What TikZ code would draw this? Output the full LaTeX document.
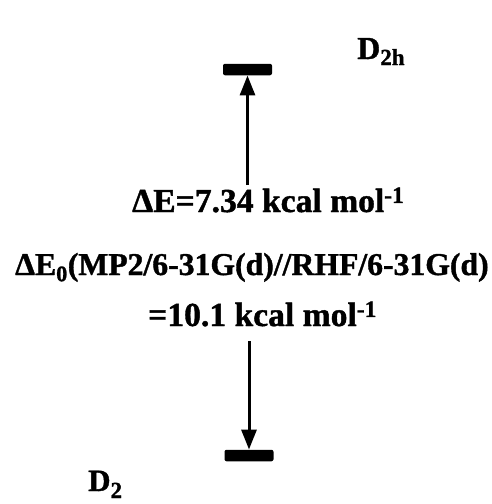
\documentclass[tikz,border=0pt]{standalone}
\usepackage{fontspec}
\setmainfont{Liberation Serif}[BoldFeatures={FakeBold=1.2}]
\usetikzlibrary{arrows.meta}
\newcommand{\lowsub}[2]{\raisebox{-#1}{\fontsize{23}{23}\selectfont #2}}
\begin{document}
\begin{tikzpicture}[x=1pt,y=-1pt,
  txt/.style={inner sep=0pt,anchor=base west,font=\bfseries},
  level/.style={fill=black,draw=none,rounded corners=2pt,inner sep=0pt,minimum width=49pt,minimum height=11.5pt},
  conn/.style={line width=3pt,-{Triangle[length=20pt,width=15pt]}}]
\useasboundingbox (0,0) rectangle (491,504);
\node[level] (top) at (247.5,69.5) {};
\node[level] (bot) at (249,455.5) {};
\node[txt,font=\bfseries\fontsize{32}{32}\selectfont] (d2h) at (357,59) {D\lowsub{6pt}{2h}};
\node[txt,font=\bfseries\fontsize{31}{31}\selectfont] (d2) at (88,491) {D\lowsub{7pt}{2}};
\node[txt,font=\bfseries\fontsize{33.6}{34}\selectfont] (l1) at (132,212) {ΔE=7.34 kcal mol\textsuperscript{-1}};
\node[txt,font=\bfseries\fontsize{31.7}{32}\selectfont] (l2) at (15,275) {ΔE\textsubscript{0}(MP2/6-31G(d)//RHF/6-31G(d)};
\node[txt,font=\bfseries\fontsize{33.6}{34}\selectfont] (l3) at (148,326) {=10.1 kcal mol\textsuperscript{-1}};
\coordinate (upstart) at (247.5,185);
\coordinate (downstart) at (249,341);
\draw[conn] (upstart) -- (top.south);
\draw[conn] (downstart) -- (bot.north);
\end{tikzpicture}
\end{document}
